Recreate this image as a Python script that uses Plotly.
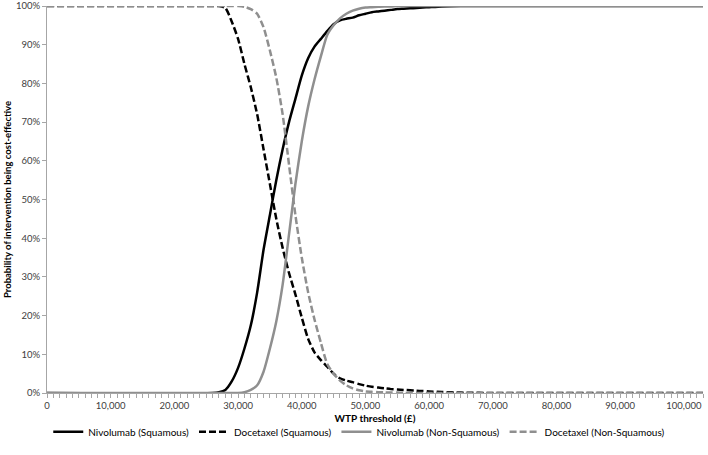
import plotly.graph_objects as go

wtp = [0, 26000, 27000, 28000, 29000, 30000, 31000, 32000, 33000, 34000, 35000,
       36000, 37000, 38000, 39000, 40000, 41000, 42000, 43000, 44000, 45000,
       46000, 47000, 48000, 49000, 50000, 51000, 52000, 53000, 54000, 55000,
       56000, 57000, 58000, 59000, 60000, 62000, 65000, 70000, 103000]

nivo_sq = [0, 0, 0.2, 0.8, 3, 6.5, 11.5, 17.5, 26, 37, 46,
           55, 63, 70, 76, 82, 86.5, 89.5, 91.5, 93.5, 95.3,
           96.3, 96.7, 97, 97.6, 98, 98.4, 98.6, 98.8, 99, 99.2,
           99.3, 99.4, 99.5, 99.6, 99.7, 99.9, 100, 100, 100]

doce_sq = [100, 100, 100, 99.5, 96, 91.5, 85, 79, 72, 63, 54,
           45, 37.5, 31, 25.5, 19.5, 14, 10.5, 8.5, 6.8, 5,
           3.8, 3.2, 2.8, 2.3, 1.9, 1.6, 1.4, 1.2, 1.0, 0.9,
           0.8, 0.7, 0.6, 0.5, 0.4, 0.25, 0.1, 0, 0]

nivo_nsq = [0, 0, 0, 0, 0, 0, 0.2, 0.8, 2, 5.5, 11.5,
            18.5, 28, 41, 54, 65, 74, 81, 87, 92.5, 95,
            96.8, 98, 98.8, 99.3, 99.6, 99.7, 99.8, 99.9, 99.9, 100,
            100, 100, 100, 100, 100, 100, 100, 100, 100]

doce_nsq = [100, 100, 100, 100, 100, 100, 99.8, 99.2, 98, 94.5, 88.5,
            81.5, 72, 59, 46, 35, 26, 19, 13, 7.5, 5,
            3.2, 2, 1.2, 0.7, 0.4, 0.3, 0.2, 0.15, 0.1, 0.1,
            0.05, 0, 0, 0, 0, 0, 0, 0, 0]

x_ticks = [0, 10000, 20000, 30000, 40000, 50000, 60000, 70000, 80000, 90000, 100000]
y_ticks = [0, 10, 20, 30, 40, 50, 60, 70, 80, 90, 100]

series = [
    ("Nivolumab (Squamous)", nivo_sq, "#000000", "solid"),
    ("Docetaxel (Squamous)", doce_sq, "#000000", "7px,3px"),
    ("Nivolumab (Non-Squamous)", nivo_nsq, "#8f8f8f", "solid"),
    ("Docetaxel (Non-Squamous)", doce_nsq, "#8f8f8f", "7px,3px"),
]

fig = go.Figure()
for name, vals, col, dash in series:
    fig.add_trace(go.Scatter(
        x=wtp, y=vals, mode="lines", name=name,
        line=dict(color=col, width=2.5, dash=dash, shape="spline", smoothing=0.6),
    ))

FONT = "Lato, Open Sans, sans-serif"

fig.update_layout(
    width=708, height=455,
    margin=dict(l=47, r=5, t=6, b=62),
    paper_bgcolor="white", plot_bgcolor="white",
    font=dict(family=FONT, size=10, color="#404040"),
    showlegend=True,
    legend=dict(orientation="h", x=0.476, xanchor="center", y=-0.1, yanchor="middle",
                font=dict(family=FONT, size=10, color="#000000"),
                itemwidth=30, tracegroupgap=0),
)
fig.update_xaxes(
    range=[0, 103000], tickvals=x_ticks, ticktext=[f"{v:,}" for v in x_ticks],
    tickfont=dict(size=9.5), automargin=False,
    showgrid=False, zeroline=False,
    showline=True, linecolor="#a6a6a6", linewidth=1,
    ticks="outside", ticklen=4, tickcolor="#a6a6a6",
    minor=dict(dtick=1000, ticks="outside", ticklen=4, tickcolor="#a6a6a6"),
    title=dict(text="<b>WTP threshold (£)</b>", font=dict(family=FONT, size=10, color="#000000"), standoff=4),
)
fig.update_yaxes(
    range=[0, 100], tickvals=y_ticks, ticktext=[f"{v}%" for v in y_ticks],
    tickfont=dict(size=9.5), automargin=False,
    showgrid=False, zeroline=False,
    showline=True, linecolor="#a6a6a6", linewidth=1,
    ticks="outside", ticklen=4, tickcolor="#a6a6a6",
    title=dict(text="<b>Probability of intervention being cost-effective</b>", font=dict(family=FONT, size=9.5, color="#000000"), standoff=2),
)

fig.write_html("out.html", config={"displayModeBar": False},
               post_script="document.body.style.margin='0';")
